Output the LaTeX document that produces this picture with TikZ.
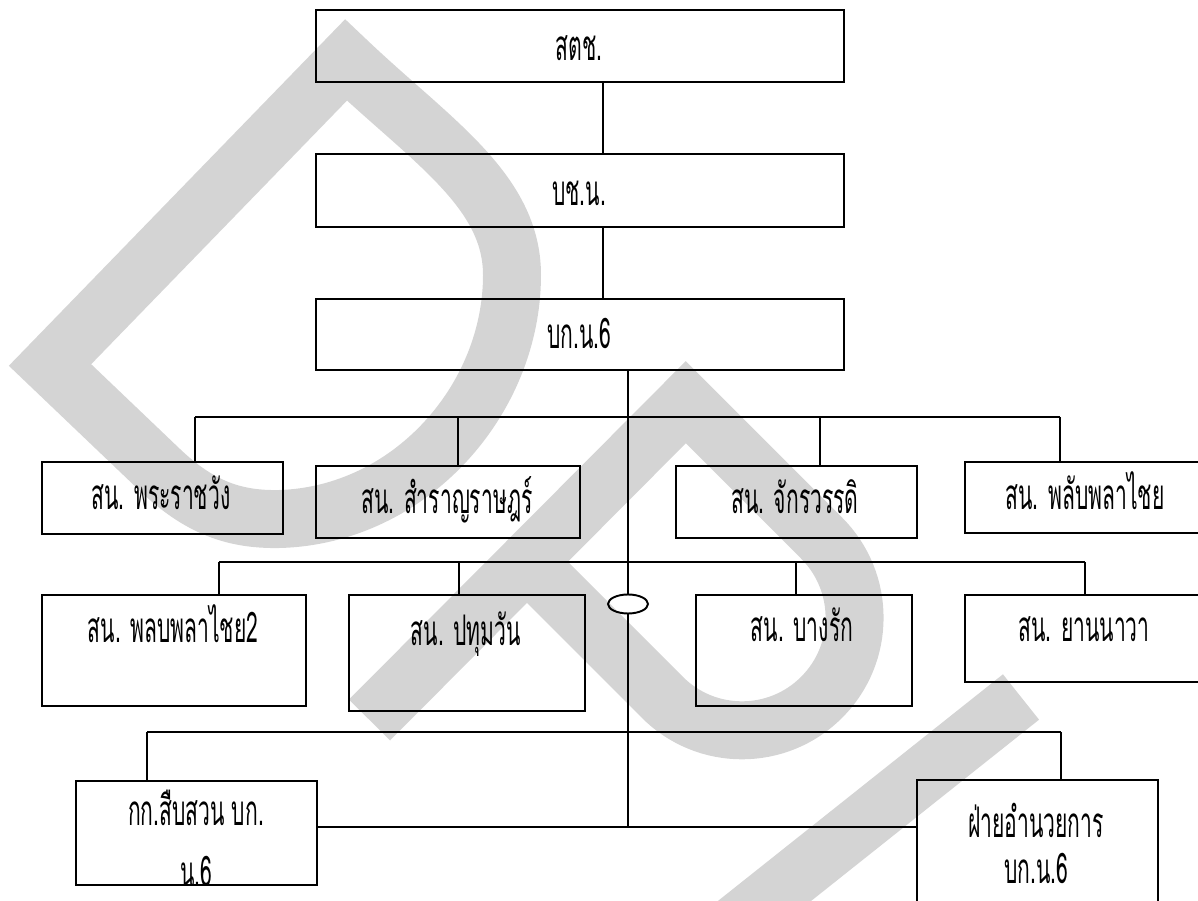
\documentclass[tikz,border=0pt]{standalone}
\usepackage{fontspec}
\setmainfont{Liberation Serif}
\newfontfamily\thaifont[Script=Thai,FakeStretch=0.5]{Loma}
\usetikzlibrary{shapes.geometric}
\definecolor{markgray}{RGB}{212,212,212}
\tikzset{
  orgbox/.style={draw, line width=1.1pt, inner sep=0pt, anchor=north west},
  wh/.style 2 args={minimum width=#1*0.02cm, minimum height=#2*0.02cm},
  lbl/.style={font=\thaifont\fontsize{24}{28}\selectfont, anchor=base, inner sep=0pt},
  link/.style={line width=1.1pt}
}

\begin{document}
\begin{tikzpicture}[x=0.02cm, y=-0.02cm]
    \useasboundingbox (0,0) rectangle (1198,901);
    \begin{scope}[markgray, line width=1.16cm, line join=miter]
        \draw (346,60) -- (50,365) -- (160,470) .. controls (200,508) and (235,520) .. (280,519)
            .. controls (410,515) and (512,400) .. (512,275) .. controls (512,190) and (430,140) .. cycle;
        \draw (369.5,720) -- (685.75,402.25) -- (821.6,538.1)
            arc[start angle=-45, end angle=135, radius=112.6] -- (526.5,561.5);
        \draw (1021,697) -- (728,930);
    \end{scope}

    \node[orgbox, wh={528}{72}] (top) at (315,9) {};
    \node[orgbox, wh={528}{73}] (bchn) at (315,153) {};
    \node[orgbox, wh={528}{71}] (bkn6) at (315,298) {};
    \node[lbl] at (579,61) {สตช.};
    \node[lbl] at (579,206) {บช.น.};
    \node[lbl] at (579,349) {บก.น.6};

    \node[orgbox, wh={241}{72}] (pmw) at (41,461) {};
    \node[orgbox, wh={264}{72}] (srj) at (315,465) {};
    \node[orgbox, wh={241}{72}] (jkw) at (675,465) {};
    \node[orgbox, wh={242}{71}] (plc) at (964,461) {};
    \node[lbl] at (161,510) {สน. พระราชวัง};
    \node[lbl] at (447,514) {สน. สำราญราษฎร์};
    \node[lbl] at (795,514) {สน. จักรวรรดิ};
    \node[lbl] at (1085,510) {สน. พลับพลาไชย};

    \node[orgbox, wh={264}{111}] (plc2) at (41,594) {};
    \node[orgbox, wh={236}{116}] (ptw) at (348,594) {};
    \node[orgbox, wh={216}{111}] (bgr) at (695,594) {};
    \node[orgbox, wh={240}{87}] (ynw) at (964,594) {};
    \node[lbl] at (173,643) {สน. พลบพลาไชย2};
    \node[lbl] at (466,646) {สน. ปทุมวัน};
    \node[lbl] at (802,642) {สน. บางรัก};
    \node[lbl] at (1084,642) {สน. ยานนาวา};

    \node[orgbox, wh={241}{104}] (kk) at (75,780) {};
    \node[orgbox, wh={241}{136}] (fai) at (916,779) {};
    \node[lbl] at (196,826) {กก.สืบสวน บก.};
    \begin{scope}
        \clip ([yshift=1pt]kk.south west) rectangle (kk.north east);
        \node[lbl] at (196,887) {น.6};
    \end{scope}
    \node[lbl] at (1036,838) {ฝ่ายอำนวยการ};
    \node[lbl] at (1036,884) {บก.น.6};

    \node[draw, ellipse, line width=1.1pt, inner sep=0pt, minimum width=0.8cm, minimum height=0.38cm] (hub) at (628,604) {};

    \coordinate (spine) at (603,0);
    \coordinate (bus4) at (628,827);
    \draw[link] (top.south -| spine) -- (bchn.north -| spine);
    \draw[link] (bchn.south -| spine) -- (bkn6.north -| spine);
    \draw[link] (bkn6.south -| hub) -- (hub.north);
    \draw[link] (hub.south) -- (bus4);

    \coordinate (r1a) at (195,417);
    \coordinate (r1b) at (458,417);
    \coordinate (r1c) at (820,417);
    \coordinate (r1d) at (1060,417);
    \draw[link] (r1a) -- (r1d);
    \draw[link] (r1a) -- (pmw.north -| r1a);
    \draw[link] (r1b) -- (srj.north -| r1b);
    \draw[link] (r1c) -- (jkw.north -| r1c);
    \draw[link] (r1d) -- (plc.north -| r1d);

    \coordinate (r2a) at (219,562);
    \coordinate (r2b) at (459,562);
    \coordinate (r2c) at (796,562);
    \coordinate (r2d) at (1085,562);
    \draw[link] (r2a) -- (r2d);
    \draw[link] (r2a) -- (plc2.north -| r2a);
    \draw[link] (r2b) -- (ptw.north -| r2b);
    \draw[link] (r2c) -- (bgr.north -| r2c);
    \draw[link] (r2d) -- (ynw.north -| r2d);

    \coordinate (r3a) at (147,732);
    \coordinate (r3b) at (1061,732);
    \draw[link] (r3a) -- (r3b);
    \draw[link] (r3a) -- (kk.north -| r3a);
    \draw[link] (r3b) -- (fai.north -| r3b);
    \draw[link] (kk.east |- bus4) -- (fai.west |- bus4);
\end{tikzpicture}
\end{document}
